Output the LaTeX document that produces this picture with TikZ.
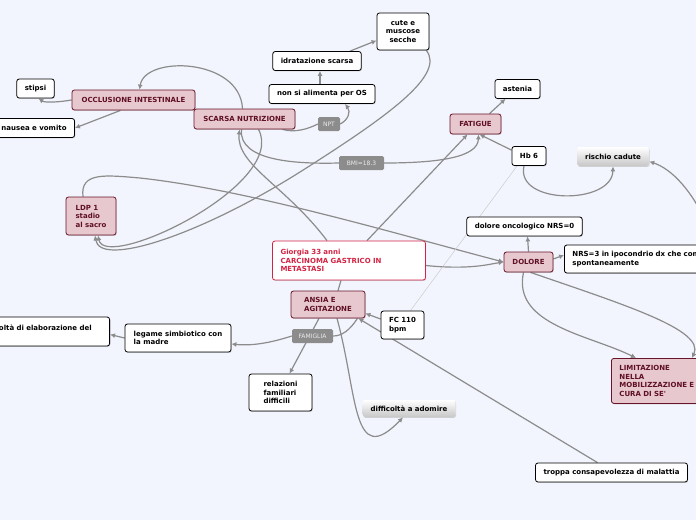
\documentclass[tikz,border=0pt]{standalone}
\usepackage{fontspec}
\setmainfont{DejaVu Sans}
\usepackage{tikz}
\usetikzlibrary{arrows.meta, shadows}
\definecolor{mapbg}{RGB}{243,245,254}
\definecolor{linegray}{RGB}{140,140,140}
\definecolor{topicfill}{RGB}{231,200,206}
\definecolor{topicdraw}{RGB}{105,20,40}
\definecolor{topictext}{RGB}{95,15,35}
\definecolor{rootred}{RGB}{212,36,68}
\definecolor{labelgray}{RGB}{140,140,140}
\pgfdeclarelayer{bg}
\pgfsetlayers{bg,main}

\begin{document}
\begin{tikzpicture}[x=1pt, y=-1pt,
    every node/.style={font=\fontsize{7}{8.5}\selectfont\bfseries},
    leaf/.style={draw=black, fill=white, rounded corners=2.5pt, line width=0.8pt,
                 inner xsep=8pt, inner ysep=4pt, minimum height=19pt,
                 drop shadow={shadow xshift=0.7pt, shadow yshift=-0.9pt, opacity=0.35}},
    topic/.style={leaf, draw=topicdraw, fill=topicfill, text=topictext, minimum height=20pt},
    root/.style={leaf, draw=rootred, text=rootred},
    soft/.style={leaf, draw=none, top color=white, bottom color=black!22},
    tag/.style={fill=labelgray, text=white!92!black, rounded corners=1.5pt, inner sep=0pt,
                minimum height=14pt, font=\fontsize{6}{7}\selectfont},
    link/.style={draw=linegray, line width=1.2pt},
    arr/.style={link, -{Latex[length=5pt,width=5pt]}}]
  \useasboundingbox (0,0) rectangle (696,520);

  \node[leaf, minimum width=37pt] (stipsi) at (35.5,88.5) {stipsi};
  \node[topic, minimum width=123pt] (occlusione) at (133.5,100) {OCCLUSIONE INTESTINALE};
  \node[leaf, minimum width=80pt] (nausea) at (34,128) {nausea e vomito};
  \node[topic, minimum width=101pt] (scarsa) at (244.5,119) {SCARSA NUTRIZIONE};
  \node[leaf, minimum width=52pt, minimum height=37pt, align=center] (cute) at (403,31.5) {cute e\\muscose\\secche};
  \node[leaf, minimum width=88pt] (idratazione) at (317,61) {idratazione scarsa};
  \node[leaf, minimum width=106pt] (alimenta) at (322,94) {non si alimenta per OS};
  \node[tag, minimum width=22pt] (npt) at (329,124) {NPT};
  \node[tag, minimum width=45pt] (bmi) at (361.5,163) {BMI=18.3};
  \node[topic, minimum width=51pt] (fatigue) at (475.5,124) {FATIGUE};
  \node[leaf, minimum width=45pt] (astenia) at (517.5,89) {astenia};
  \node[leaf, minimum width=34pt] (hb) at (529,156) {Hb 6};
  \node[soft, minimum width=70pt] (cadute) at (613,156.5) {rischio cadute};
  \node[topic, minimum width=50pt, minimum height=38pt, align=left] (ldp) at (91,216) {LDP 1\\stadio\\al sacro};
  \node[root, text width=137pt, minimum height=39pt, align=left] (giorgia) at (349,260.5) {Giorgia 33 anni\\CARCINOMA GASTRICO IN\\METASTASI};
  \node[leaf, minimum width=115pt] (oncologico) at (524.5,226.5) {dolore oncologico NRS=0};
  \node[topic, minimum width=49pt] (dolore) at (528.5,262) {DOLORE};
  \node[leaf, anchor=west, text width=170pt, minimum height=28pt, align=left] (nrs) at (564,259) {NRS=3 in ipocondrio dx che compare\\spontaneamente};
  \node[topic, minimum width=74pt, minimum height=27pt, align=left] (ansia) at (328,304.5) {ANSIA E\\AGITAZIONE};
  \node[tag, minimum width=41pt] (famiglia) at (312.5,336) {FAMIGLIA};
  \node[leaf, minimum width=43pt, minimum height=28pt, align=left] (fc) at (402.5,325) {FC 110\\bpm};
  \node[leaf, minimum width=106pt, minimum height=28pt, align=left] (legame) at (178,338) {legame simbiotico con\\la madre};
  \node[leaf, anchor=east, text width=122pt, minimum height=29pt, align=left] (elaborazione) at (110,331.5) {difficoltà di elaborazione del\\\mbox{}};
  \node[leaf, minimum width=63pt, minimum height=37pt, align=left] (relazioni) at (280.5,392.5) {relazioni\\familiari\\difficili};
  \node[soft, minimum width=92pt, minimum height=17pt] (adomire) at (409,408.5) {difficoltà a adomire};
  \node[topic, anchor=north west, text width=100pt, minimum height=45pt, align=left] (limitazione) at (611,358) {LIMITAZIONE\\NELLA\\MOBILIZZAZIONE E\\CURA DI SE\textquotesingle};
  \node[leaf, minimum width=151pt] (troppa) at (611.5,472.5) {troppa consapevolezza di malattia};

  \begin{pgfonlayer}{bg}
    \fill[mapbg] (0,0) rectangle (696,520);
    \draw[arr] ([xshift=-22]giorgia.north) .. controls (285,185) and (236,165) .. ([xshift=-5]scarsa.south);
    \draw[arr] ([xshift=-2]scarsa.north) .. controls (240,58) and (145,55) .. ([xshift=6]occlusione.north);
    \draw[arr] (occlusione.west) .. controls (60,102) and (45,103) .. ([xshift=3]stipsi.south);
    \draw[arr] ([xshift=-13]occlusione.south) -- (nausea.east);
    \draw[link] ([xshift=38]scarsa.south) .. controls (295,133) and (308,129) .. (npt.west);
    \draw[arr] (npt.east) .. controls (348,120) and (351,112) .. ([xshift=23]alimenta.south);
    \draw[arr] ([xshift=-2]alimenta.north) -- ([xshift=3]idratazione.south);
    \draw[arr] ([xshift=33]idratazione.north) -- ([yshift=-9]cute.west);
    \draw[arr] ([xshift=-3]cute.south east) .. controls (445,75) and (390,115) .. (300,172)
      .. controls (200,235) and (100,268) .. ([xshift=4]ldp.south);
    \draw[arr] ([xshift=14]scarsa.south) .. controls (288,185) and (105,272) .. ([xshift=7]ldp.south);
    \draw[link] ([xshift=-3]scarsa.south) .. controls (238,162) and (300,164) .. (bmi.west);
    \draw[arr] (bmi.east) .. controls (440,163) and (478,157) .. ([xshift=3]fatigue.south);
    \draw[arr] ([xshift=18]giorgia.north) -- ([xshift=-8]fatigue.south);
    \draw[arr] ([yshift=-4]hb.north west) -- ([xshift=4]fatigue.south);
    \draw[arr] ([xshift=14]fatigue.north) -- ([xshift=-12]astenia.south);
    \draw[arr] ([xshift=-5]hb.south) .. controls (515,205) and (612,205) .. (cadute.south);
    \draw[arr] (limitazione.north east) .. controls (735,250) and (690,175) .. ([yshift=-5]cadute.east);
    \draw[arr] ([yshift=-5]giorgia.east) .. controls (470,270) and (490,264) .. (dolore.west);
    \draw[arr] ([xshift=-8]ldp.north) .. controls (80,172) and (105,175) .. (140,178)
      .. controls (250,190) and (400,235) .. (dolore.west);
    \draw[arr] (dolore.north) -- ([xshift=3]oncologico.south);
    \draw[arr] ([yshift=3]dolore.east) -- ([yshift=4]nrs.west);
    \draw[arr] ([xshift=-5]dolore.south) .. controls (512,325) and (590,335) .. ([xshift=25]limitazione.north west);
    \draw[arr] ([xshift=2]dolore.south) .. controls (625,305) and (705,330) .. ([xshift=81]limitazione.north west);
    \draw[link] ([xshift=-8]giorgia.south) -- ([xshift=10]ansia.north);
    \draw[link] ([xshift=-8]ansia.south east) .. controls (350,330) and (342,336) .. (famiglia.east);
    \draw[arr] (famiglia.west) .. controls (270,343) and (252,346) .. ([yshift=-6]legame.east);
    \draw[arr] ([xshift=-9]ansia.south) -- ([xshift=9]relazioni.north);
    \draw[arr] ([xshift=9]ansia.south) .. controls (358,395) and (352,470) .. ([xshift=-6]adomire.south);
    \draw[arr] (legame.west) -- ([yshift=-3]elaborazione.east);
    \draw[arr] ([yshift=6]fc.west) -- ([yshift=5]ansia.south east);
    \draw[arr] ([xshift=-14]troppa.north) -- ([xshift=-7]ansia.south east);
    \draw[draw=black!20, line width=0.5pt] ([xshift=8]fc.north) -- ([xshift=-12]hb.south);
  \end{pgfonlayer}
\end{tikzpicture}
\end{document}
